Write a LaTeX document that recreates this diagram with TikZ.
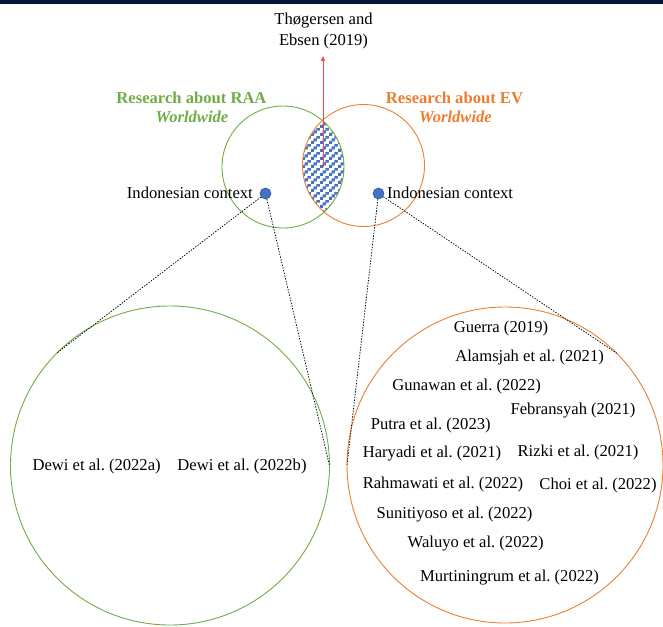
\documentclass[tikz,border=0pt]{standalone}
\usepackage{fontspec}
\setmainfont{Liberation Serif}
\usetikzlibrary{arrows.meta,patterns}
\definecolor{raagreen}{HTML}{70AD47}
\definecolor{evorange}{HTML}{ED7D31}
\definecolor{dotblue}{HTML}{4472C4}
\definecolor{dotedge}{HTML}{2F528F}
\definecolor{topnavy}{RGB}{4,22,52}
\definecolor{arrowred}{HTML}{FF4040}
\pgfdeclarepatterninherentlycolored{bluestair}{\pgfpointorigin}{\pgfpoint{8.4pt}{8.4pt}}{\pgfpoint{8.4pt}{8.4pt}}{%
  \pgfsetfillcolor{dotblue}%
  \pgfpathrectangle{\pgfpoint{0pt}{0pt}}{\pgfpoint{3.3pt}{3.3pt}}%
  \pgfpathrectangle{\pgfpoint{2.8pt}{2.8pt}}{\pgfpoint{3.3pt}{3.3pt}}%
  \pgfpathrectangle{\pgfpoint{5.6pt}{5.6pt}}{\pgfpoint{2.8pt}{2.8pt}}%
  \pgfusepath{fill}}
\frenchspacing
\begin{document}
\begin{tikzpicture}[x=1pt,y=-1pt,
  txt/.style={font=\fontsize{16.6}{21}\selectfont, inner sep=0pt, text=black},
  head/.style={font=\fontsize{16.6}{20}\selectfont\bfseries, inner sep=0pt},
  headit/.style={font=\fontsize{16.6}{20}\selectfont\bfseries\itshape, inner sep=0pt},
  ring/.style={circle, draw, line width=0.9pt, inner sep=0pt, outer sep=0pt},
  bluedot/.style={circle, fill=dotblue, draw=dotedge, line width=0.6pt, minimum size=11pt, inner sep=0pt},
  zoomline/.style={draw=black, line width=0.75pt, dash pattern=on 1.4pt off 1.4pt}
]
\useasboundingbox (0,0) rectangle (663,626);
\fill[topnavy] (0,0) rectangle (663,4);

% lens pattern
\begin{scope}
  \clip (283,167) circle (61);
  \fill[pattern=bluestair] (363.5,165.5) circle (61);
\end{scope}

% small circles
\node[ring, draw=raagreen, minimum size=122pt] (sg) at (283,167) {};
\node[ring, draw=evorange, minimum size=122pt] (so) at (363.5,165.5) {};

% big circles
\node[ring, draw=raagreen, minimum size=319pt] (bg) at (170,465.5) {};
\node[ring, draw=evorange, minimum size=316pt] (bo) at (505,465) {};

% arrow to Thogersen
\coordinate (lens) at (323,167);
\node[txt, align=center] (thog) at (323.5,31.5) {Thøgersen and\\Ebsen (2019)};
\draw[arrowred, line width=0.6pt, -{Triangle[length=5pt,width=4pt]}] (lens) -- (323,56);

% headings
\node[head, text=raagreen] (h1) at (191.5,97.5) {Research about RAA};
\node[headit, text=raagreen] (h1w) at (192,117) {Worldwide};
\node[head, text=evorange] (h2) at (454.5,97.5) {Research about EV};
\node[headit, text=evorange] (h2w) at (455.5,117) {Worldwide};

% dots
\node[bluedot] (ld) at (265.5,193.5) {};
\node[bluedot] (rd) at (378.5,193.5) {};
\node[txt, anchor=east] (lctx) at (253,193) {Indonesian context};
\node[txt, anchor=west] (rctx) at (387,193) {Indonesian context};

% zoom lines
\draw[zoomline] (ld) -- (bg.135);
\draw[zoomline] (ld) -- (bg.0);
\draw[zoomline] (rd) -- (bo.180);
\draw[zoomline] (rd) -- (bo.45);

% RAA references
\node[txt] (d1) at (96.6,466.5) {Dewi et al. (2022a)};
\node[txt] (d2) at (242,466.5) {Dewi et al. (2022b)};

% EV references
\node[txt] (e1) at (501,328.5) {Guerra (2019)};
\node[txt] (e2) at (529.6,357.5) {Alamsjah et al. (2021)};
\node[txt] (e3) at (466.6,386.5) {Gunawan et al. (2022)};
\node[txt] (e4) at (573,411) {Febransyah (2021)};
\node[txt] (e5) at (430.7,425.5) {Putra et al. (2023)};
\node[txt] (e6) at (432,453.3) {Haryadi et al. (2021)};
\node[txt] (e7) at (578,452.7) {Rizki et al. (2021)};
\node[txt] (e8) at (443,484.5) {Rahmawati et al. (2022)};
\node[txt] (e9) at (598,485.7) {Choi et al. (2022)};
\node[txt] (e10) at (454.5,515) {Sunitiyoso et al. (2022)};
\node[txt] (e11) at (475.7,543.3) {Waluyo et al. (2022)};
\node[txt] (e12) at (509.5,577.3) {Murtiningrum et al. (2022)};
\end{tikzpicture}
\end{document}
